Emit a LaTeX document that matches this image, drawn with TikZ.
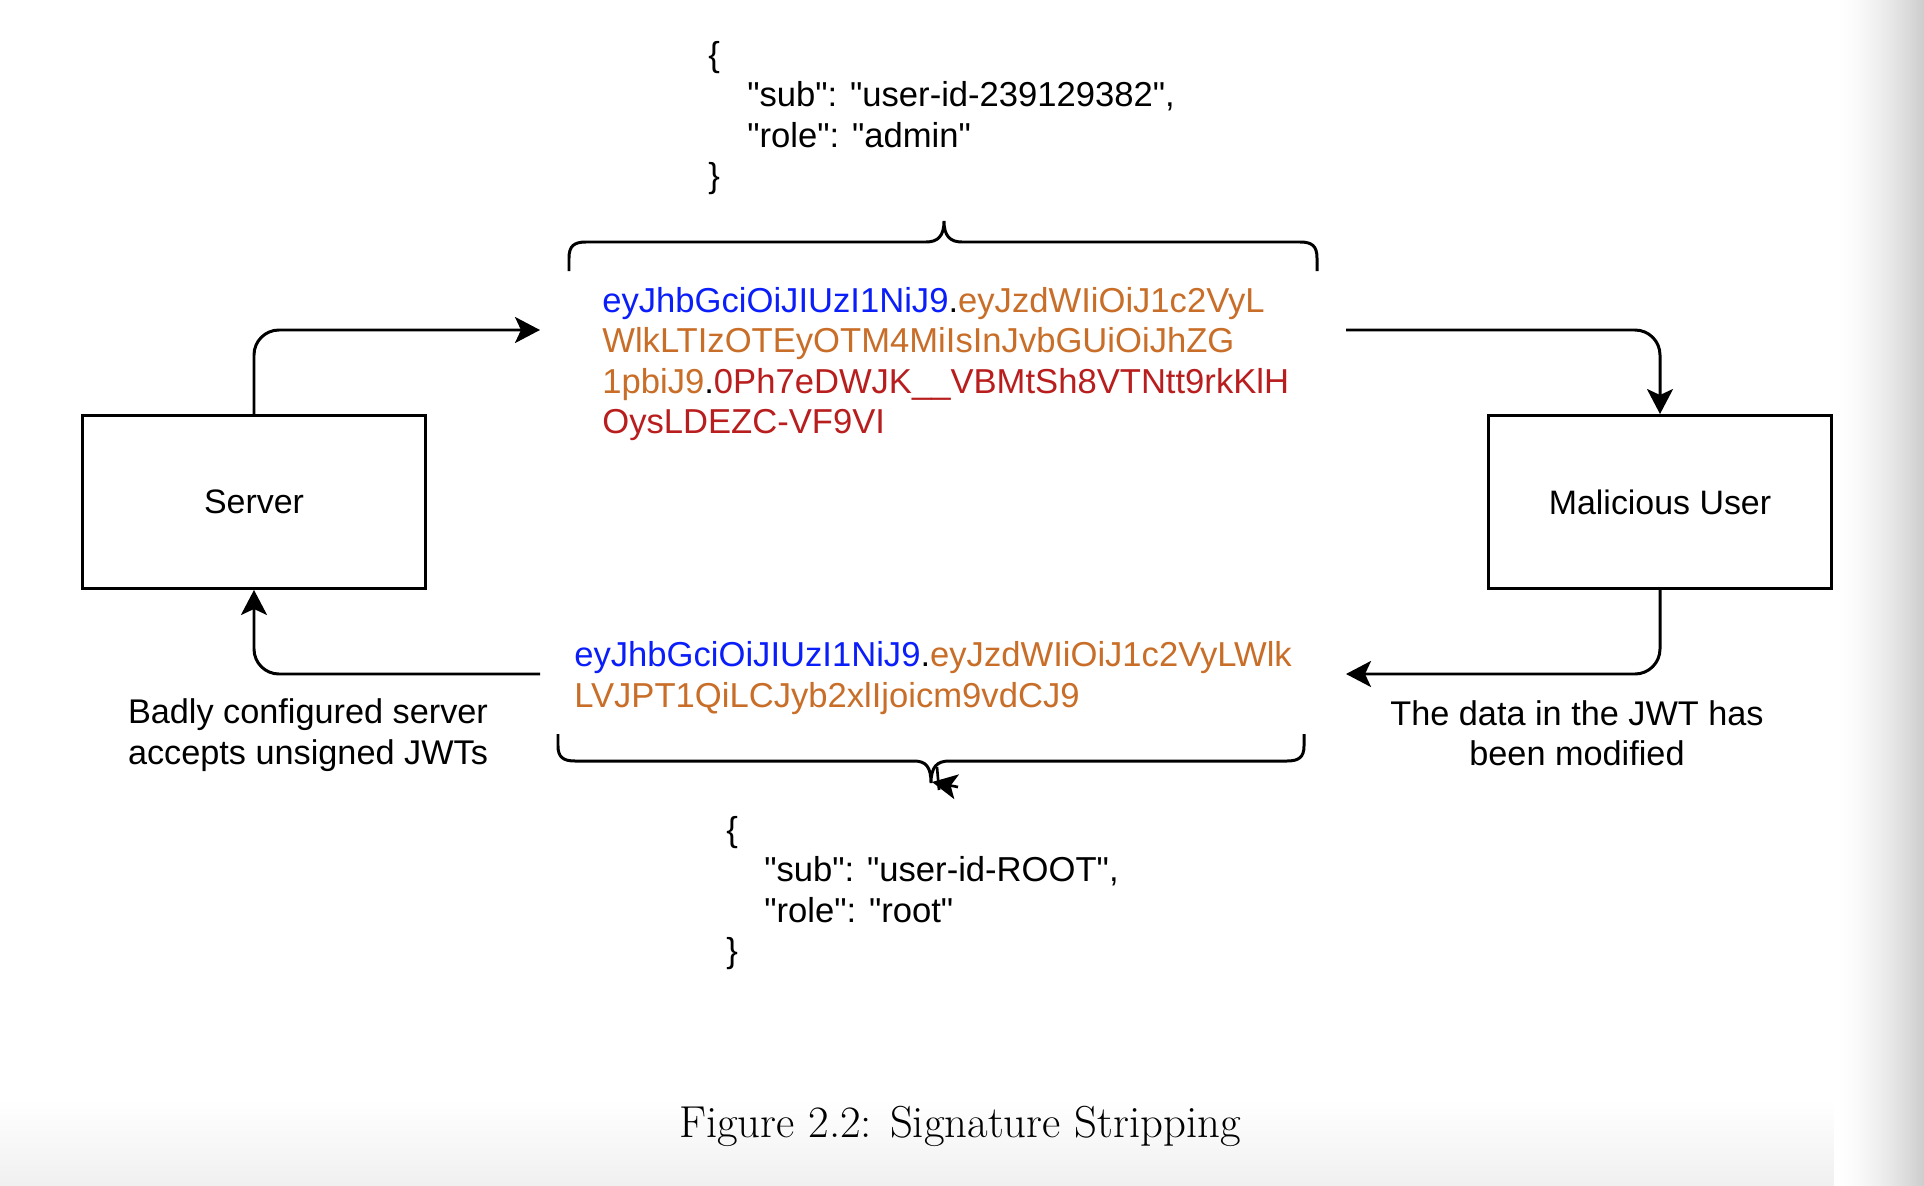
\documentclass[tikz,border=0pt]{standalone}
\usepackage{fontspec}
\usepackage{tikz}
\usetikzlibrary{arrows.meta}
\usetikzlibrary{backgrounds}

\newfontfamily\drawfont{Liberation Sans}
\definecolor{hdrblue}{RGB}{10,30,250}
\definecolor{bodyorange}{RGB}{200,110,40}
\definecolor{sigred}{RGB}{185,30,30}

\tikzset{
        box/.style={draw, line width=1.7pt, minimum width=6.88cm, minimum height=3.46cm, font=\drawfont\fontsize{19.3}{23}\selectfont},
        txt/.style={inner sep=0pt, align=left, font=\drawfont\fontsize{19.7}{23}\selectfont},
        note/.style={inner sep=0pt, align=center, font=\drawfont\fontsize{19.5}{23}\selectfont},
        flow/.style={line width=1.7pt, rounded corners=0.5cm, -{Stealth[length=0.5cm, width=0.52cm, inset=0.12cm]}},
        brace/.style={line width=1.7pt}
}

\begin{document}
\begin{tikzpicture}[x=0.02cm, y=-0.02cm]
        \useasboundingbox (0,0) rectangle (1924,1186);
        \fill[white] (0,0) rectangle (1924,1186);
        \fill[top color=white, bottom color=black!6] (0,1100) rectangle (1834,1186);
        % page shadow on the right
        \foreach \i in {0,...,45} {
                \pgfmathsetmacro\shade{20*(\i/45)^1.6}
                \fill[black!\shade] ({1834+2*\i},0) rectangle ({1836.6+2*\i},1186);
        }

        \node[box] (server) at (254,502) {Server};
        \node[box] (attacker) at (1660,502) {Malicious User};

        \node[txt, anchor=west] (claimstop) at (708,118) {\{\\\hspace*{0.78cm}"sub": "user-id-239129382",\\\hspace*{0.78cm}"role": "admin"\\\}};
        \node[txt, anchor=west] (tokentop) at (602,364) {\textcolor{hdrblue}{eyJhbGciOiJIUzI1NiJ9}.\textcolor{bodyorange}{eyJzdWIiOiJ1c2VyL}\\\textcolor{bodyorange}{WlkLTIzOTEyOTM4MiIsInJvbGUiOiJhZG}\\\textcolor{bodyorange}{1pbiJ9}.\textcolor{sigred}{0Ph7eDWJK\_\_VBMtSh8VTNtt9rkKlH}\\\textcolor{sigred}{OysLDEZC-VF9VI}};
        \node[txt, anchor=west] (tokenbottom) at (574,678) {\textcolor{hdrblue}{eyJhbGciOiJIUzI1NiJ9}.\textcolor{bodyorange}{eyJzdWIiOiJ1c2VyLWlk}\\\textcolor{bodyorange}{LVJPT1QiLCJyb2xlIjoicm9vdCJ9}};
        \node[txt, anchor=west] (claimsbottom) at (726,893) {\{\\\hspace*{0.76cm}"sub": "user-id-ROOT",\\\hspace*{0.76cm}"role": "root"\\\}};

        \node[note] (servernote) at (308,735) {Badly configured server\\accepts unsigned JWTs};
        \node[note] (attackernote) at (1577,733) {The data in the JWT has\\been modified};
        \node[inner sep=0pt, font=\fontsize{25.5}{30}\selectfont] (caption) at (960,1126) {Figure 2.2: Signature Stripping};

        \coordinate (toptokin) at (540,330);
        \coordinate (toptokout) at (1346,330);
        \coordinate (bottokin) at (1346,674);
        \coordinate (bottokout) at (540,674);
        \coordinate (bottip) at (932,782);
        \coordinate (botstub) at (958,787);

        \draw[flow] (server.north) |- (toptokin);
        \draw[flow] (toptokout) -| (attacker.north);
        \draw[flow] (attacker.south) |- (bottokin);
        \draw[flow] (bottokout) -| (server.south);

        \draw[brace] (569,271) -- (569,258) .. controls (569,246) and (574,242) .. (586,242) -- (926,242) .. controls (938,242) and (944,236) .. (944,221) .. controls (944,236) and (950,242) .. (962,242) -- (1300,242) .. controls (1312,242) and (1317,246) .. (1317,258) -- (1317,271);
        \draw[brace] (558,734) -- (558,746) .. controls (558,757) and (563,761) .. (575,761) -- (914,761) .. controls (926,761) and (931,767) .. (931,783) .. controls (931,767) and (937,761) .. (949,761) -- (1287,761) .. controls (1299,761) and (1304,757) .. (1304,746) -- (1304,734);
        \draw[line width=1.5pt] (937,767) -- (939,790);
        \draw[line width=1.5pt, -{Stealth[length=0.5cm, width=0.5cm, inset=0.12cm]}] (botstub) -- (bottip);
\end{tikzpicture}
\end{document}
